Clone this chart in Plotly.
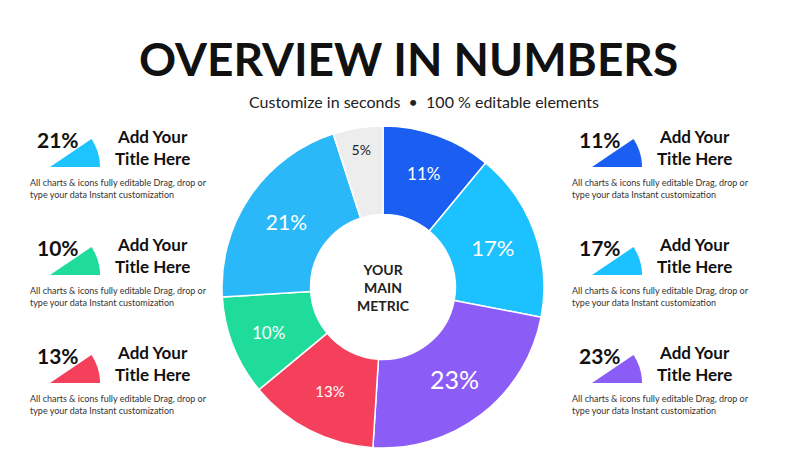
import math
import plotly.graph_objects as go

W, H = 800, 450

# main donut, clockwise from 12 o'clock
shares = [11, 17, 23, 13, 10, 21, 5]
colors = ["#1b5ff2", "#1cc2ff", "#8b5cf6", "#f5405c", "#1fdc9b", "#2ab8f8", "#ededee"]
label_colors = ["white"] * 6 + ["#222222"]

# side cards: value, colour, side, row
card_values = [21, 10, 13, 11, 17, 23]
card_colors = ["#1ec4ff", "#1fdc9b", "#f5405c", "#1b5ff2", "#1cc2ff", "#8b5cf6"]
card_sides = ["L", "L", "L", "R", "R", "R"]
card_rows = [0, 1, 2, 0, 1, 2]
card_title = "Add Your<br>Title Here"
card_body = "All charts & icons fully editable Drag, drop or<br>type your data Instant customization"

FONT = "Lato"

fig = go.Figure()

cx, cy, r = 375, 279, 161
fig.add_trace(go.Pie(
    values=shares, labels=[f"s{i}" for i in range(len(shares))],
    text=[f"{v}%" for v in shares], textinfo="text",
    textfont=dict(family=FONT, size=[17, 22, 25, 15, 17, 21, 14], color=label_colors),
    insidetextorientation="horizontal",
    marker=dict(colors=colors, line=dict(color="white", width=1.5)),
    hole=0.45, sort=False, direction="clockwise", rotation=0,
    domain=dict(x=[(cx - r) / W, (cx + r) / W], y=[1 - (cy + r) / H, 1 - (cy - r) / H]),
    showlegend=False, hoverinfo="skip",
))

annotations = [
    dict(x=0.5, y=1 - 50 / H, text="<b>OVERVIEW IN NUMBERS</b>",
         font=dict(family=FONT, size=46, color="#111111")),
    dict(x=0.52, y=1 - 93 / H, text="Customize in seconds  •  100 % editable elements",
         font=dict(family=FONT, size=16, color="#222222")),
    dict(x=cx / W, y=1 - cy / H, text="<b>YOUR<br>MAIN<br>METRIC</b>",
         font=dict(family=FONT, size=14, color="#222222")),
]


def wedge_path(ax, ay, rad, deg, n=16):
    pts = [(ax, ay)]
    for i in range(n + 1):
        t = math.radians(deg * i / n)
        pts.append((ax + rad * math.cos(t), ay - rad * math.sin(t)))
    return "M " + " L ".join(f"{x / W:.5f},{1 - y / H:.5f}" for x, y in pts) + " Z"


shapes = []
for v, c, side, row in zip(card_values, card_colors, card_sides, card_rows):
    x0 = 20 if side == "L" else 562
    ytop = 118 + row * 108
    shapes.append(dict(type="path", xref="paper", yref="paper",
                       path=wedge_path(x0 + 22, ytop + 41, 50, 34),
                       fillcolor=c, line=dict(width=0)))
    annotations += [
        dict(x=(x0 + 30) / W, y=1 - (ytop + 13) / H, text=f"<b>{v}%</b>",
             font=dict(family=FONT, size=21, color="#111111")),
        dict(x=(x0 + 124) / W, y=1 - (ytop + 21) / H, text=f"<b>{card_title}</b>",
             font=dict(family=FONT, size=17, color="#111111")),
        dict(x=x0 / W, y=1 - (ytop + 62) / H, text=card_body, xanchor="left", align="left",
             font=dict(family=FONT, size=9, color="#333333")),
    ]

for a in annotations:
    a.setdefault("xref", "paper")
    a.setdefault("yref", "paper")
    a.setdefault("showarrow", False)
    a.setdefault("xanchor", "center")
    a.setdefault("yanchor", "middle")

fig.update_layout(width=W, height=H, margin=dict(l=0, r=0, t=0, b=0),
                  paper_bgcolor="white", plot_bgcolor="white",
                  annotations=annotations, shapes=shapes)

fig.write_html("out.html")
